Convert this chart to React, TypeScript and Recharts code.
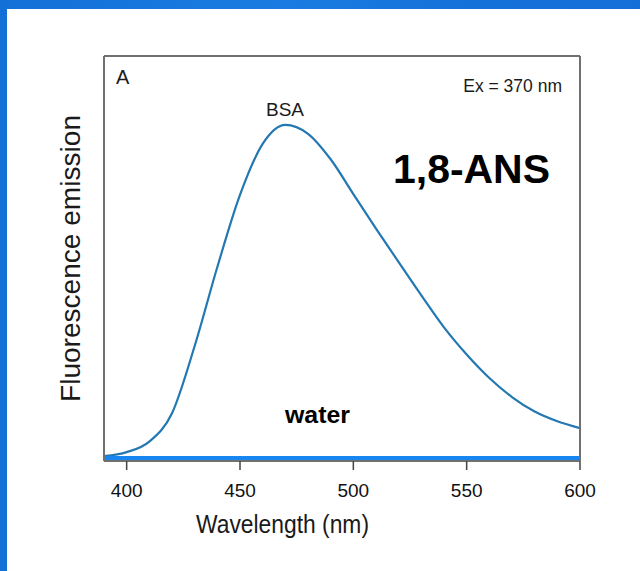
import React from 'react';
import { LineChart, Line, XAxis, YAxis } from 'recharts';

const wavelengths = [390, 400, 410, 420, 430, 440, 450, 460, 470, 480, 490, 500, 510, 520, 530, 540, 550, 560, 570, 580, 590, 600];
const bsaEmission = [1.2, 2.2, 4.8, 11.8, 28.4, 47.9, 65.7, 78.3, 83.0, 80.8, 74.5, 65.9, 57.4, 49.1, 40.9, 33.0, 26.3, 20.5, 15.8, 12.2, 9.8, 8.1];
const waterEmission = [0.6, 0.6, 0.6, 0.6, 0.6, 0.6, 0.6, 0.6, 0.6, 0.6, 0.6, 0.6, 0.6, 0.6, 0.6, 0.6, 0.6, 0.6, 0.6, 0.6, 0.6, 0.6];
const xTicks = [400, 450, 500, 550, 600];

const data = wavelengths.map((wl, i) => ({ wl, bsa: bsaEmission[i], water: waterEmission[i] }));

const FONT = '"Liberation Sans", Arial, Helvetica, sans-serif';
const AXIS = '#707070';

export default function App() {
  return (
    <div style={{ position: 'absolute', left: 0, top: 0, width: 640, height: 571, background: '#ffffff', overflow: 'hidden' }}>
      <div style={{ position: 'absolute', left: 0, top: 0, width: 640, height: 9, background: 'linear-gradient(90deg,#1370d8,#1a7ce2 45%,#1572da 70%,#1470d8)' }} />
      <div style={{ position: 'absolute', left: 0, top: 0, width: 7, height: 571, background: '#1270d6' }} />
      <div style={{ position: 'absolute', left: 0, top: 0 }}>
        <LineChart width={640} height={571} data={data} margin={{ top: 0, right: 0, left: 0, bottom: 0 }}>
          <XAxis
            dataKey="wl"
            type="number"
            domain={[390, 600]}
            ticks={xTicks}
            allowDataOverflow
            height={110}
            tickSize={9}
            tickMargin={14}
            axisLine={{ stroke: AXIS, strokeWidth: 2 }}
            tickLine={{ stroke: '#444', strokeWidth: 1.5 }}
            tick={{ fill: '#111', fontSize: 19, fontFamily: FONT }}
          />
          <XAxis xAxisId="top" orientation="top" dataKey="wl" type="number" domain={[390, 600]} allowDataOverflow height={56} tick={false} tickLine={false} axisLine={{ stroke: AXIS, strokeWidth: 2 }} />
          <YAxis type="number" domain={[0, 100]} allowDataOverflow width={104} tick={false} tickLine={false} axisLine={{ stroke: AXIS, strokeWidth: 2 }} />
          <YAxis yAxisId="right" orientation="right" type="number" domain={[0, 100]} allowDataOverflow width={60} tick={false} tickLine={false} axisLine={{ stroke: AXIS, strokeWidth: 2 }} />
          <Line type="monotone" dataKey="bsa" stroke="#2378b2" strokeWidth={2.2} dot={false} isAnimationActive={false} />
          <Line type="linear" dataKey="water" stroke="#1786f0" strokeWidth={5} dot={false} isAnimationActive={false} />
        </LineChart>
      </div>
      <svg width={640} height={571} style={{ position: 'absolute', left: 0, top: 0, pointerEvents: 'none' }}>
        <g fontFamily={FONT} fill="#1a1a1a">
          <text x={116} y={84} fontSize={20} fontWeight={500}>A</text>
          <text x={285} y={116} fontSize={19} textAnchor="middle">BSA</text>
          <text x={562} y={92} fontSize={17.5} textAnchor="end">Ex = 370 nm</text>
          <text x={393} y={183} fontSize={41} fontWeight="bold" fill="#000" textLength={157} lengthAdjust="spacingAndGlyphs">1,8-ANS</text>
          <text x={285} y={423} fontSize={24} fontWeight="bold" fill="#000" textLength={65} lengthAdjust="spacingAndGlyphs">water</text>
          <text x={282.5} y={533} fontSize={25} textAnchor="middle" textLength={173} lengthAdjust="spacingAndGlyphs">Wavelength (nm)</text>
          <text transform="translate(80,258.5) rotate(-90)" x={0} y={0} fontSize={28} textAnchor="middle" textLength={287} lengthAdjust="spacingAndGlyphs">Fluorescence emission</text>
        </g>
      </svg>
    </div>
  );
}
